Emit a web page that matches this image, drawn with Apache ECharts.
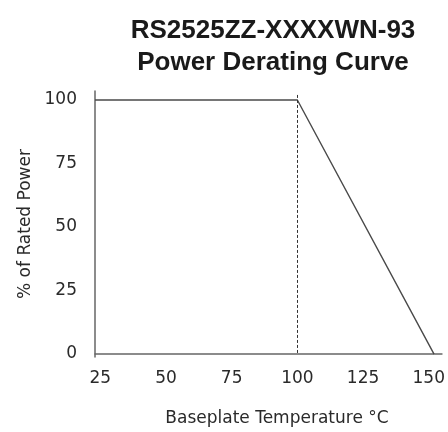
<!DOCTYPE html>
<html><head><meta charset="utf-8">
<script src="https://cdn.jsdelivr.net/npm/echarts@6/dist/echarts.min.js"></script>
<style>html,body{margin:0;padding:0;background:#fff}#c{width:448px;height:432px}</style>
</head><body><div id="c"></div>
<script>
const titleLines = ['RS2525ZZ-XXXXWN-93', 'Power Derating Curve'];
const xAxisName = 'Baseplate Temperature °C';
const yAxisName = '% of Rated Power';
const xTickLabels = [25, 50, 75, 100, 125, 150];
const yTickLabels = [0, 25, 50, 75, 100];
const temperature = [23, 100, 152];
const ratedPower = [100, 100, 0];
const kneeTemperature = 100;

const font = 'DejaVu Sans, Verdana, sans-serif';
const chart = echarts.init(document.getElementById('c'), null, {renderer: 'canvas'});
chart.setOption({
  animation: false,
  backgroundColor: '#ffffff',
  title: {
    text: titleLines.join('\n'),
    left: 268,
    top: 10,
    textAlign: 'center',
    textStyle: {fontFamily: 'Liberation Sans, Arial, sans-serif', fontWeight: 'bold', fontSize: 26, lineHeight: 32, color: '#1a1a1a'}
  },
  grid: {left: 95, right: 1, top: 91, bottom: 70, containLabel: false},
  xAxis: {
    type: 'value', min: 23, max: 155,
    name: xAxisName, nameLocation: 'middle', nameGap: 53,
    nameTextStyle: {fontFamily: font, fontSize: 17, color: '#2a2a2a', padding: [0, 0, 0, 17]},
    axisLine: {show: true, onZero: true, lineStyle: {color: '#666666', width: 1.5}},
    axisTick: {show: false},
    splitLine: {show: false},
    axisLabel: {customValues: xTickLabels, margin: 13, fontFamily: font, fontSize: 17, color: '#2a2a2a'}
  },
  yAxis: {
    type: 'value', min: -1.16, max: 103.55,
    name: yAxisName, nameLocation: 'middle', nameGap: 58,
    nameTextStyle: {fontFamily: font, fontSize: 17, color: '#2a2a2a'},
    axisLine: {show: true, lineStyle: {color: '#666666', width: 1.5}},
    axisTick: {show: false},
    splitLine: {show: false},
    axisLabel: {customValues: yTickLabels, margin: 18, fontFamily: font, fontSize: 17, color: '#2a2a2a', padding: [0, 0, 8, 0]}
  },
  series: [{
    type: 'line',
    data: temperature.map((t, i) => [t, ratedPower[i]]),
    symbol: 'none',
    lineStyle: {color: '#4a4a4a', width: 1.4},
    silent: true,
    markLine: {
      silent: true, symbol: 'none', label: {show: false},
      lineStyle: {color: '#333', width: 1, type: [3, 2]},
      data: [[{coord: [kneeTemperature, 102]}, {coord: [kneeTemperature, 0]}]]
    }
  }]
});
</script></body></html>
